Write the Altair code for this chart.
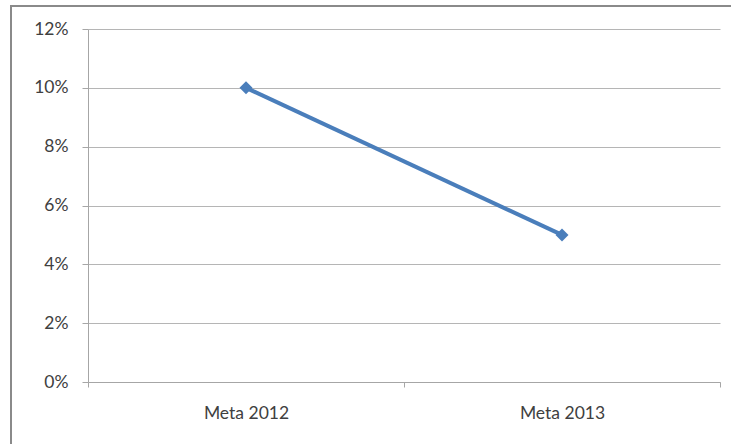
import altair as alt
import pandas as pd

categories = ["Meta 2012", "Meta 2013"]
values = [0.10, 0.05]

df = pd.DataFrame({"cat": categories, "val": values})

x_enc = alt.X("cat:N", sort=categories, title=None,
              scale=alt.Scale(paddingInner=0, paddingOuter=0),
              axis=alt.Axis(labelAngle=0, tickBand="extent", tickSize=5,
                            labelPadding=17, grid=False, domainColor="#a6a6a6",
                            tickColor="#a6a6a6"))
y_enc = alt.Y("val:Q", title=None,
              scale=alt.Scale(domain=[0, 0.12], nice=False),
              axis=alt.Axis(format=".0%", values=[0, 0.02, 0.04, 0.06, 0.08, 0.10, 0.12],
                            tickSize=6, labelPadding=14, grid=True,
                            gridColor="#b5b5b5", domainColor="#a6a6a6",
                            tickColor="#a6a6a6"))

line = alt.Chart(df).mark_line(color="#4a7ebb", strokeWidth=4).encode(x=x_enc, y=y_enc)
pts = alt.Chart(df).mark_point(shape="diamond", filled=True, size=170, color="#4a7ebb", opacity=1).encode(x=x_enc, y=y_enc)

border = alt.Chart(pd.DataFrame({"a": [0]})).mark_rect(
    fill="transparent", stroke="#8a8a8a", strokeWidth=2
).encode(x=alt.value(-77), x2=alt.value(660), y=alt.value(-23), y2=alt.value(425))

chart = alt.layer(border, line, pts).properties(
    width=632, height=353,
    autosize=alt.AutoSizeParams(type="none"),
    padding={"left": 88, "top": 29, "right": 11, "bottom": 62},
    background="white",
).configure_view(stroke=None).configure_axis(
    labelFont="Lato", labelFontSize=17.5, labelColor="#404040"
)

chart.save("out.html", embed_options={"renderer": "svg", "actions": False})
